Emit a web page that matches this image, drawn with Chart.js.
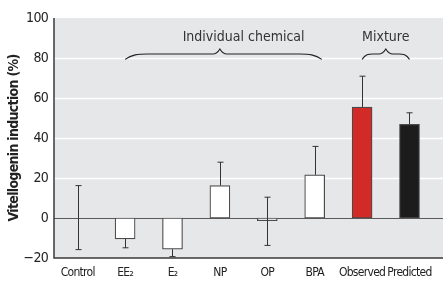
<!DOCTYPE html>
<html>
<head>
<meta charset="utf-8">
<script src="https://cdn.jsdelivr.net/npm/chart.js@4"></script>
<style>
  html, body { margin: 0; padding: 0; background: #fff; }
</style>
</head>
<body>
<canvas id="chart" width="443" height="281"></canvas>
<script>
// values (% vitellogenin induction)
var categories = ['Control', 'EE₂', 'E₂', 'NP', 'OP', 'BPA', 'Observed', 'Predicted'];
var induction = [0, -10.4, -15.6, 16.2, -1.3, 21.6, 55.4, 46.8];
var errUp = [16.2, 0, 0, 11.7, 11.7, 14.2, 15.5, 5.8];
var errDown = [15.8, 4.5, 3.7, 0, 12.4, 0, 0, 0];
var barColors = ['#ffffff', '#ffffff', '#ffffff', '#ffffff', '#ffffff', '#ffffff', '#d22b27', '#1c1c1c'];
var yTicks = [-20, 0, 20, 40, 60, 80, 100];

// brace groups above the bars (category indices)
var groupLabels = ['Individual chemical', 'Mixture'];
var groupFrom = [1, 6];
var groupTo = [5.15, 7];
var groupPeak = [3, 6.5];
var groupText = [3.5, 6.5];

var FONT = "'DejaVu Sans Condensed', 'Liberation Sans Narrow', sans-serif";

var panelPlugin = {
  id: 'panel',
  beforeDraw: function(chart) {
    // condensed look for the axis text
    chart.ctx.letterSpacing = '-0.7px';
  },
  beforeDatasetsDraw: function(chart) {
    var ctx = chart.ctx, a = chart.chartArea, y = chart.scales.y;
    ctx.letterSpacing = '0px';
    ctx.save();
    ctx.fillStyle = '#e6e7e8';
    ctx.fillRect(a.left, a.top, chart.width - a.left, a.bottom - a.top);
    yTicks.forEach(function(v) {
      if (v <= yTicks[0] || v >= yTicks[yTicks.length - 1]) return;
      var py = Math.round(y.getPixelForValue(v)) + 0.5;
      ctx.beginPath();
      ctx.moveTo(a.left, py);
      ctx.lineTo(chart.width, py);
      if (v === 0) {
        ctx.strokeStyle = '#5a5a5a';
        ctx.lineWidth = 1.2;
      } else {
        ctx.strokeStyle = '#ffffff';
        ctx.lineWidth = 1.5;
      }
      ctx.stroke();
    });
    // axes
    ctx.strokeStyle = '#3a3a3a';
    ctx.lineWidth = 1.5;
    ctx.beginPath();
    ctx.moveTo(a.left, a.top);
    ctx.lineTo(a.left, a.bottom);
    ctx.lineTo(chart.width, a.bottom);
    ctx.stroke();
    ctx.restore();
  },
  afterDatasetsDraw: function(chart) {
    var ctx = chart.ctx, y = chart.scales.y, x = chart.scales.x;
    var bars = chart.getDatasetMeta(0).data;
    ctx.save();
    ctx.strokeStyle = '#333';
    ctx.lineWidth = 1;
    bars.forEach(function(bar, i) {
      var v = induction[i];
      var top = y.getPixelForValue(v + errUp[i]);
      var bot = y.getPixelForValue(v - errDown[i]);
      var bx = Math.round(bar.x) + 0.5;
      ctx.beginPath();
      ctx.moveTo(bx, top);
      ctx.lineTo(bx, bot);
      if (errUp[i] > 0) { ctx.moveTo(bx - 3, top); ctx.lineTo(bx + 3, top); }
      if (errDown[i] > 0) { ctx.moveTo(bx - 3, bot); ctx.lineTo(bx + 3, bot); }
      ctx.stroke();
    });

    // braces + group labels
    ctx.strokeStyle = '#222';
    ctx.lineWidth = 1.1;
    ctx.fillStyle = '#333';
    ctx.font = '14px ' + FONT;
    ctx.textAlign = 'center';
    ctx.textBaseline = 'middle';
    var yEnd = y.getPixelForValue(79.3);
    var yLine = y.getPixelForValue(82);
    var yPeak = y.getPixelForValue(84.5);
    groupLabels.forEach(function(lbl, g) {
      var x0 = x.getPixelForValue(groupFrom[g]);
      var x1 = x.getPixelForValue(groupTo[g]);
      var xm = x.getPixelForValue(groupPeak[g]);
      var c = Math.min(22, (xm - x0) * 0.45);
      ctx.beginPath();
      ctx.moveTo(x0, yEnd);
      ctx.bezierCurveTo(x0 + c * 0.3, yLine + 0.5, x0 + c * 0.6, yLine, x0 + c, yLine);
      ctx.lineTo(xm - 7, yLine);
      ctx.quadraticCurveTo(xm - 3, yLine, xm, yPeak);
      ctx.quadraticCurveTo(xm + 3, yLine, xm + 7, yLine);
      ctx.lineTo(x1 - c, yLine);
      ctx.bezierCurveTo(x1 - c * 0.6, yLine, x1 - c * 0.3, yLine + 0.5, x1, yEnd);
      ctx.stroke();
      ctx.fillText(lbl, x.getPixelForValue(groupText[g]), y.getPixelForValue(90.5));
    });
    ctx.restore();
  }
};

var chart = new Chart(document.getElementById('chart'), {
  type: 'bar',
  data: {
    labels: categories,
    datasets: [{
      data: induction,
      backgroundColor: barColors,
      borderColor: '#4a4a4a',
      borderWidth: 1.2,
      borderSkipped: false,
      barThickness: 20
    }]
  },
  options: {
    responsive: false,
    animation: false,
    layout: { padding: { top: 18, right: 3, left: 0, bottom: 0 } },
    plugins: { legend: { display: false }, tooltip: { enabled: false } },
    scales: {
      x: {
        grid: { display: false, drawTicks: false },
        border: { display: false },
        ticks: {
          color: '#222',
          padding: 8,
          autoSkip: false,
          maxRotation: 0,
          font: { family: FONT, size: 12 }
        },
        afterFit: function(s) { s.height = 23; }
      },
      y: {
        min: -20,
        max: 100,
        grid: { display: false, drawTicks: false },
        border: { display: false },
        ticks: {
          stepSize: 20,
          color: '#222',
          padding: 6,
          font: { family: FONT, size: 14 },
          callback: function(v) { return v < 0 ? '\u2212' + Math.abs(v) : '' + v; }
        },
        title: {
          display: true,
          text: 'Vitellogenin induction (%)',
          color: '#222',
          padding: { top: 6, bottom: 0 },
          font: { family: FONT, size: 14, weight: 'bold' }
        },
        afterFit: function(s) { s.width = 54; }
      }
    }
  },
  plugins: [panelPlugin]
});
</script>
</body>
</html>
